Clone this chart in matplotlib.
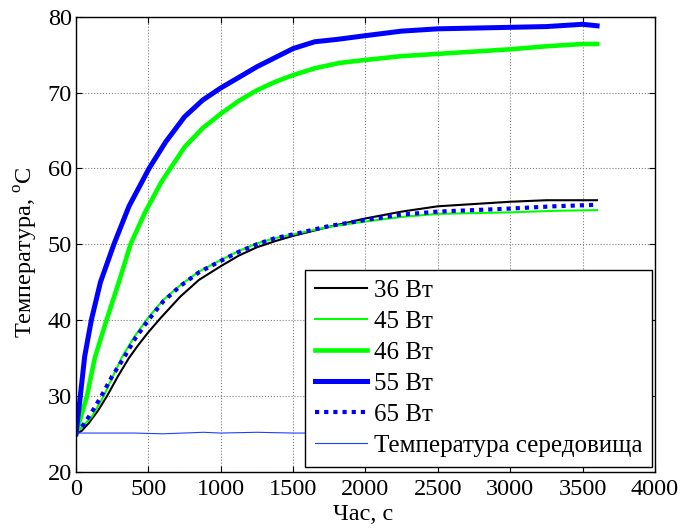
import numpy as np
import matplotlib
matplotlib.use("Agg")
import matplotlib.pyplot as plt

# =========================
# дані
# =========================
t_36 = [0, 40, 88, 150, 215, 290, 366, 430, 500, 586, 721, 850, 1000, 1125, 1250, 1375, 1500, 1750, 2000, 2250, 2500, 2750, 3000, 3250, 3600]
T_36 = [25.0, 25.4, 26.4, 28.0, 30.0, 32.6, 35.0, 36.7, 38.4, 40.3, 43.1, 45.3, 47.1, 48.5, 49.6, 50.4, 51.1, 52.3, 53.4, 54.3, 55.0, 55.3, 55.6, 55.8, 55.8]

t_45 = [0, 40, 111, 192, 255, 320, 400, 486, 600, 721, 850, 1000, 1125, 1250, 1375, 1500, 1750, 2000, 2250, 2500, 2750, 3000, 3300, 3600]
T_45 = [25.0, 25.9, 27.3, 30.0, 32.6, 35.2, 37.7, 40.0, 42.6, 44.6, 46.4, 47.9, 49.1, 50.1, 50.8, 51.3, 52.3, 53.0, 53.6, 54.0, 54.1, 54.2, 54.4, 54.5]

t_46 = [0, 76, 130, 211, 296, 377, 477, 593, 750, 875, 1000, 1125, 1250, 1375, 1500, 1650, 1820, 2000, 2250, 2500, 2750, 3000, 3250, 3500, 3600]
T_46 = [25.0, 30.0, 35.0, 40.0, 45.0, 50.0, 54.2, 58.3, 62.8, 65.3, 67.2, 68.9, 70.3, 71.4, 72.3, 73.2, 73.9, 74.3, 74.8, 75.1, 75.4, 75.7, 76.1, 76.4, 76.4]

t_55 = [0, 30, 60, 106, 169, 262, 366, 505, 620, 750, 875, 1000, 1125, 1250, 1375, 1500, 1650, 1800, 2000, 2250, 2500, 2750, 3000, 3250, 3500, 3600]
T_55 = [25.0, 30.0, 35.2, 40.0, 45.0, 50.0, 55.0, 60.0, 63.5, 66.8, 69.0, 70.6, 72.0, 73.4, 74.6, 75.8, 76.7, 77.0, 77.5, 78.1, 78.4, 78.5, 78.6, 78.7, 79.0, 78.8]

t_65 = [0, 60, 120, 176, 250, 330, 410, 500, 600, 721, 850, 1000, 1125, 1250, 1375, 1500, 1750, 2000, 2250, 2500, 2750, 3000, 3300, 3600]
T_65 = [25.0, 26.4, 28.2, 30.0, 32.6, 35.0, 37.6, 40.0, 42.4, 44.5, 46.3, 47.8, 49.0, 50.0, 50.8, 51.3, 52.4, 53.2, 53.9, 54.3, 54.5, 54.7, 55.0, 55.2]

t_env = [0, 200, 400, 600, 880, 1000, 1250, 1500, 2000, 2500, 3000, 3600]
T_env = [25.1, 25.1, 25.1, 25.0, 25.2, 25.1, 25.2, 25.1, 25.1, 25.1, 25.1, 25.1]

labels = ["36 Вт", "45 Вт", "46 Вт", "55 Вт", "65 Вт", "Температура середовища"]

# =========================
# шрифти
# =========================
plt.rcParams["font.family"] = ["Liberation Serif", "DejaVu Serif"]
plt.rcParams["mathtext.fontset"] = "custom"
plt.rcParams["mathtext.rm"] = "Liberation Serif"
plt.rcParams["font.size"] = 17.5

fig = plt.figure(figsize=(6.94, 5.32), dpi=100)
ax = fig.add_axes([0.1095, 0.1133, 0.8343, 0.8553])

ax.plot(t_36, T_36, color="black", lw=1.5, label=labels[0])
ax.plot(t_45, T_45, color="#00ff00", lw=1.5, label=labels[1])
ax.plot(t_46, T_46, color="#00ff00", lw=3.3, label=labels[2])
ax.plot(t_55, T_55, color="#0000ff", lw=3.6, label=labels[3])
ax.plot(t_65, T_65, color="#0000ff", lw=3.0, ls=(0, (1, 1.2)), label=labels[4])
ax.plot(t_env, T_env, color="#2040ff", lw=0.8, label=labels[5])

ax.set_xlim(0, 4000)
ax.set_ylim(20, 80)
ax.set_xticks(np.arange(0, 4001, 500))
ax.set_yticks(np.arange(20, 81, 10))
ax.tick_params(direction="in", top=True, right=True, length=4, width=0.8, labelsize=17.5)
ax.tick_params(axis="x", pad=5)
ax.tick_params(axis="y", pad=3)
ax.grid(True, color="gray", ls=":", lw=0.8)
for s in ax.spines.values():
    s.set_linewidth(1.0)

ax.set_xlabel("Час, с", fontsize=17.5)
ax.set_ylabel("Температура, $^{\\rm o}$C", fontsize=17.5)
ax.xaxis.set_label_coords(0.496, -0.07)
ax.yaxis.set_label_coords(-0.062, 0.482)

leg = ax.legend(loc="lower right", bbox_to_anchor=(0.995, 0.01), borderaxespad=0,
                fontsize=18, fancybox=False, framealpha=1, edgecolor="black",
                handlelength=2.1, handletextpad=0.25, labelspacing=0.34, borderpad=0.4)
leg.get_frame().set_linewidth(1.0)

fig.savefig("out.png", dpi=100)
plt.close(fig)
